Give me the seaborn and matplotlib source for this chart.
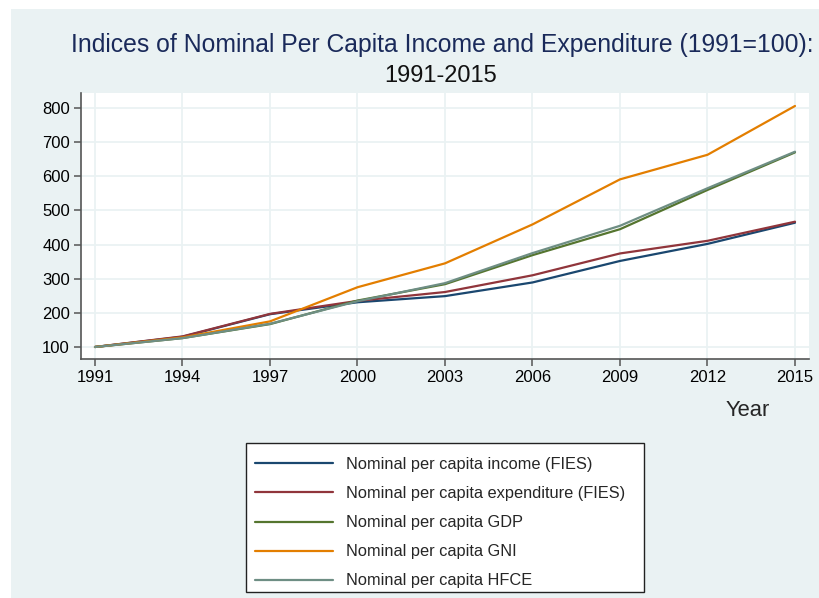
import pandas as pd
import matplotlib.pyplot as plt
import matplotlib.patches as mpatches
import seaborn as sns

# Daten (1991=100)
jahre = [1991, 1994, 1997, 2000, 2003, 2006, 2009, 2012, 2015]
einkommen = [100, 130, 196, 231, 249, 289, 352, 402, 464]
ausgaben = [100, 131, 197, 235, 261, 310, 374, 411, 467]
bip = [100, 126, 167, 236, 284, 369, 445, 560, 670]
bne = [100, 128, 175, 275, 345, 459, 591, 663, 806]
hfce = [100, 126, 168, 234, 287, 375, 455, 565, 672]

reihen = ['Nominal per capita income (FIES)',
          'Nominal per capita expenditure (FIES)',
          'Nominal per capita GDP',
          'Nominal per capita GNI',
          'Nominal per capita HFCE']
farben = ['#1a476f', '#90353b', '#55752f', '#e37e00', '#6e8e84']

df = pd.DataFrame({
    'Jahr': jahre * 5,
    'Index': einkommen + ausgaben + bip + bne + hfce,
    'Reihe': [r for r in reihen for _ in jahre],
})

sns.set_style('white')
plt.rcParams['font.family'] = ['Liberation Sans', 'DejaVu Sans']

fig = plt.figure(figsize=(8.2, 5.98), dpi=100)
fig.patch.set_facecolor('white')
# Hintergrund im Stata-Stil
fig.patches.append(mpatches.Rectangle((11 / 820, 0), 1, 1 - 9 / 598,
                                      transform=fig.transFigure,
                                      facecolor='#eaf2f3', edgecolor='none', zorder=-10))

ax = fig.add_axes([81 / 820, 1 - 359 / 598, 728 / 820, 266 / 598])
sns.lineplot(data=df, x='Jahr', y='Index', hue='Reihe', palette=farben,
             hue_order=reihen, linewidth=1.6, ax=ax, legend=True)

ax.set_xlim(1990.52, 2015.48)
ax.set_ylim(64.8, 844)
ax.set_xticks(jahre)
ax.set_yticks(range(100, 801, 100))
ax.grid(True, color='#eaf2f3', linewidth=1.3)
ax.set_axisbelow(True)
for s in ['top', 'right']:
    ax.spines[s].set_visible(False)
for s in ['left', 'bottom']:
    ax.spines[s].set_color('#555555')
    ax.spines[s].set_linewidth(1.2)
ax.tick_params(direction='out', length=5, width=1.1, color='#555555',
               labelsize=12, labelcolor='black', pad=3, left=True, bottom=True)
ax.set_xlabel('')
ax.set_ylabel('')

fig.text(442 / 820, 1 - 45 / 598,
         'Indices of Nominal Per Capita Income and Expenditure (1991=100):',
         ha='center', va='center', fontsize=17.8, color='#1a2a5a')
fig.text(441 / 820, 1 - 76 / 598, '1991-2015', ha='center', va='center',
         fontsize=17, color='#111111')
fig.text(748 / 820, 1 - 411 / 598, 'Year', ha='center', va='center', fontsize=15.8)

# Legende unterhalb
handles, labels = ax.get_legend_handles_labels()
ax.legend_.remove()
leg = fig.legend(handles, labels, loc='upper left',
                 bbox_to_anchor=(247 / 820, 1 - 449 / 598),
                 frameon=False, fontsize=11.75, handlelength=4.8,
                 handletextpad=0.74, labelspacing=0.86, borderpad=0)
fig.patches.append(mpatches.Rectangle((246 / 820, 1 - 592 / 598), 398 / 820, 149 / 598,
                                      transform=fig.transFigure,
                                      facecolor='white', edgecolor='#222222',
                                      linewidth=1.0, zorder=-5))

fig.savefig('out.png', dpi=100, facecolor=fig.get_facecolor())
